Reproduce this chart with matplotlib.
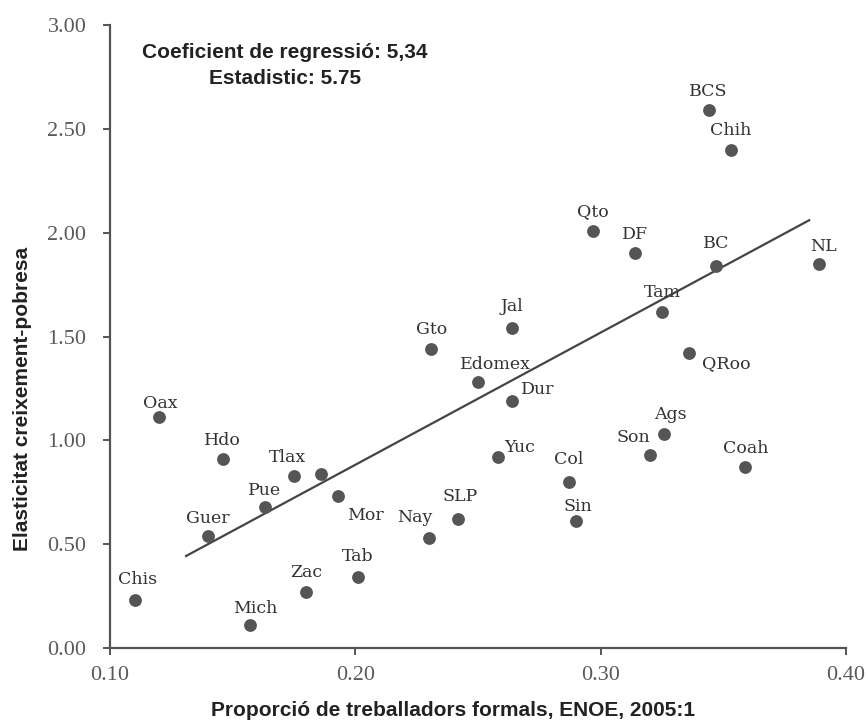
import matplotlib
matplotlib.use("Agg")
import matplotlib.pyplot as plt
from matplotlib.ticker import FormatStrFormatter

# Entitats federatives: proporcio de treballadors formals i elasticitat
states = ["Chis", "Oax", "Hdo", "Guer", "Pue", "Tlax", "", "Mor", "Mich", "Zac",
          "Tab", "Nay", "SLP", "Yuc", "Gto", "Edomex", "Jal", "Dur", "Col", "Sin",
          "Son", "Ags", "Coah", "QRoo", "Tam", "BC", "NL", "BCS", "Chih", "Qto", "DF"]
formal_share = [0.110, 0.120, 0.146, 0.140, 0.163, 0.175, 0.186, 0.193, 0.157, 0.180,
                0.201, 0.230, 0.242, 0.258, 0.231, 0.250, 0.264, 0.264, 0.287, 0.290,
                0.320, 0.326, 0.359, 0.336, 0.325, 0.347, 0.389, 0.344, 0.353, 0.297, 0.314]
elasticity = [0.23, 1.11, 0.91, 0.54, 0.68, 0.83, 0.84, 0.73, 0.11, 0.27,
              0.34, 0.53, 0.62, 0.92, 1.44, 1.28, 1.54, 1.19, 0.80, 0.61,
              0.93, 1.03, 0.87, 1.42, 1.62, 1.84, 1.85, 2.59, 2.40, 2.01, 1.90]

# Recta de regressio (extrems)
fit_x = [0.131, 0.385]
fit_y = [0.443, 2.06]

x_ticks = [0.10, 0.20, 0.30, 0.40]
y_ticks = [0.00, 0.50, 1.00, 1.50, 2.00, 2.50, 3.00]

# desplacament de cada etiqueta respecte del punt (pixels) i alineacio
label_offsets = {
    "Dur": (9, 11, "left"), "QRoo": (13, -11, "left"), "Yuc": (7, 9, "left"),
    "Mor": (9, -19, "left"), "Edomex": (17, 18, "center"), "Son": (-16, 17, "center"),
    "Nay": (-14, 20, "center"), "Tlax": (-7, 18, "center"), "NL": (5, 17, "center"),
    "Ags": (6, 20, "center"), "Mich": (5, 17, "center"), "Oax": (1, 14, "center"),
    "Sin": (2, 15, "center"), "Pue": (0, 16, "center"), "Guer": (0, 17, "center"),
    "BC": (0, 22, "center"), "Jal": (0, 22, "center"), "Col": (0, 22, "center"),
    "SLP": (2, 23, "center"), "Tab": (0, 21, "center"), "Chis": (3, 21, "center"),
}

grey = "#555555"

fig = plt.figure(figsize=(8.67, 7.25), dpi=100)
ax = fig.add_axes([110 / 867, 1 - 648 / 725, 736 / 867, 623 / 725])

ax.scatter(formal_share, elasticity, s=85, color=grey, zorder=3, linewidths=0)
ax.plot(fit_x, fit_y, color="#444444", linewidth=1.6, zorder=2)

for name, x, y in zip(states, formal_share, elasticity):
    if not name:
        continue
    dx, dy, ha = label_offsets.get(name, (0, 19, "center"))
    ax.annotate(name, (x, y), xytext=(dx, dy), textcoords="offset pixels",
                ha=ha, va="center", fontsize=12.5, family="DejaVu Serif",
                color="#333333")

ax.set_xlim(0.10, 0.40)
ax.set_ylim(0.0, 3.0)
ax.set_xticks(x_ticks)
ax.set_yticks(y_ticks)
ax.xaxis.set_major_formatter(FormatStrFormatter("%.2f"))
ax.yaxis.set_major_formatter(FormatStrFormatter("%.2f"))
for lab in ax.get_xticklabels() + ax.get_yticklabels():
    lab.set_family("Liberation Serif")
    lab.set_fontsize(16)
    lab.set_color("#5a5a5a")

ax.spines["top"].set_visible(False)
ax.spines["right"].set_visible(False)
for side in ["left", "bottom"]:
    ax.spines[side].set_color(grey)
    ax.spines[side].set_linewidth(1.6)
ax.tick_params(direction="out", length=5, width=1.4, color=grey)
ax.tick_params(axis="x", pad=8)
ax.tick_params(axis="y", pad=12)

fig.text(285 / 867, 1 - 53 / 725, "Coeficient de regressió: 5,34",
         ha="center", va="center", fontsize=15, fontweight="bold",
         family="Liberation Sans", color="#222222")
fig.text(285 / 867, 1 - 79 / 725, "Estadistic: 5.75",
         ha="center", va="center", fontsize=15, fontweight="bold",
         family="Liberation Sans", color="#222222")

fig.text(23 / 867, 1 - 399 / 725, "Elasticitat creixement-pobresa", rotation=90,
         ha="center", va="center", fontsize=15, fontweight="bold",
         family="Liberation Sans", color="#222222")
fig.text(453 / 867, 1 - 711 / 725, "Proporció de treballadors formals, ENOE, 2005:1",
         ha="center", va="center", fontsize=15, fontweight="bold",
         family="Liberation Sans", color="#222222")

fig.savefig("out.png", dpi=100)
